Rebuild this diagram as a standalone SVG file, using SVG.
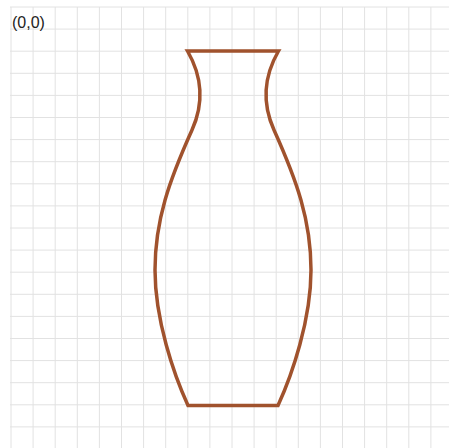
<svg xmlns="http://www.w3.org/2000/svg" width="449" height="448" viewBox="0 0 449 448">
<style>
.grid{stroke:#e2e2e2;stroke-width:1;fill:none}
.vase{stroke:#a0522d;stroke-width:3.5;fill:none;stroke-linejoin:miter}
.lbl{font-family:"Liberation Sans",Arial,sans-serif;font-size:16px;fill:#222}
</style>
<rect width="449" height="448" fill="#fff"/>
<g id="grid">
<path class="grid" d="M11,7V448M33.1,7V448M55.2,7V448M77.3,7V448M99.4,7V448M121.5,7V448M143.6,7V448M165.7,7V448M187.8,7V448M209.9,7V448M232,7V448M254.1,7V448M276.2,7V448M298.3,7V448M320.4,7V448M342.5,7V448M364.6,7V448M386.7,7V448M408.8,7V448M430.9,7V448"/>
<path class="grid" d="M10,7H449M10,29.1H449M10,51.2H449M10,73.3H449M10,95.4H449M10,117.5H449M10,139.6H449M10,161.7H449M10,183.8H449M10,205.9H449M10,228H449M10,250.1H449M10,272.2H449M10,294.3H449M10,316.4H449M10,338.5H449M10,360.6H449M10,382.7H449M10,404.8H449M10,426.9H449"/>
</g>
<g id="origin-label">
<text class="lbl" x="12" y="27.5">(0,0)</text>
</g>
<g id="vase">
<path class="vase" d="M187.5,51 L278.5,51 Q256,90 274,130 C296.5,180 311,220 311,270 C311,320 292,375 278,405.5 L188,405.5 C174,375 155,320 155,270 C155,220 169.5,180 192,130 Q210,90 187.5,51 Z"/>
</g>
</svg>
